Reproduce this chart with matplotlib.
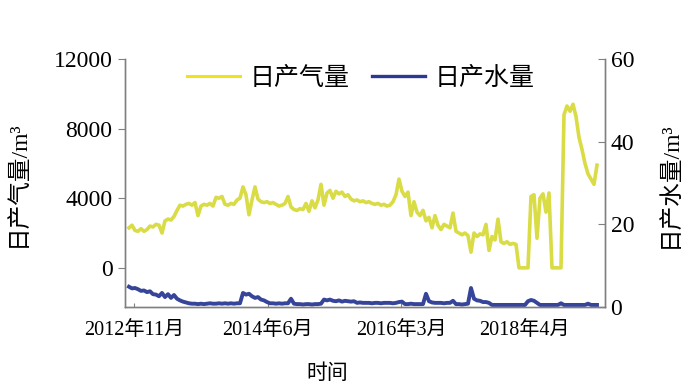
import matplotlib
matplotlib.use('Agg')
import matplotlib.pyplot as plt
from matplotlib.lines import Line2D
import numpy as np

plt.rcParams['font.family'] = ['Liberation Serif', 'Noto Sans CJK SC']

# daily gas rate (m3), sampled along the time axis
gas = [2300, 2450, 2150, 2100, 2250, 2100, 2200, 2400, 2350, 2500,
       2450, 2000, 2700, 2800, 2750, 2950, 3300, 3600, 3550, 3650,
       3700, 3600, 3750, 3000, 3550, 3650, 3600, 3700, 3550, 4050,
       4000, 4100, 3650, 3600, 3700, 3650, 3900, 4000, 4650, 4200,
       3050, 3900, 4650, 3950, 3800, 3750, 3800, 3700, 3750, 3650,
       3550, 3600, 3700, 4100, 3500, 3350, 3300, 3400, 3350, 3700,
       3250, 3850, 3450, 3900, 4800, 3600, 4300, 4450, 4000, 4400,
       4250, 4350, 4100, 4200, 3950, 3850, 3900, 3800, 3850, 3750,
       3800, 3700, 3650, 3700, 3600, 3650, 3550, 3600, 3800, 4200,
       5100, 4400, 4100, 4350, 3000, 3800, 3200, 3000, 3300, 2700,
       2900, 2300, 3000, 2450, 2200, 2500, 2400, 2300, 3150, 2100,
       2000, 1900, 2000, 1850, 900, 2000, 1800, 1950, 1900, 2500,
       1000, 1800, 1600, 2800, 1500, 1400, 1500, 1350, 1400, 1350,
       0, 0, 0, 0, 4100, 4200, 1700, 4000, 4250, 3200,
       4300, 0, 0, 0, 0, 8800, 9300, 9000, 9400, 8700,
       7500, 6800, 6000, 5400, 5100, 4800, 5900]

# daily water rate (m3)
water = [4.9, 4.5, 4.6, 4.3, 3.9, 4.0, 3.6, 3.8, 3.1, 3.0,
         2.6, 3.4, 2.4, 3.1, 2.2, 2.9, 2.0, 1.6, 1.3, 1.1,
         0.9, 0.8, 0.8, 0.7, 0.8, 0.7, 0.8, 0.9, 0.8, 0.8,
         0.9, 0.8, 0.9, 0.8, 0.9, 0.8, 0.9, 0.9, 3.4, 3.0,
         3.2, 2.6, 2.2, 2.4, 1.8, 1.6, 1.2, 0.9, 0.9, 0.8,
         0.9, 0.8, 0.9, 0.9, 2.0, 0.8, 0.7, 0.7, 0.6, 0.7,
         0.7, 0.6, 0.7, 0.7, 0.8, 1.8, 1.6, 1.8, 1.5, 1.4,
         1.6, 1.3, 1.5, 1.4, 1.3, 1.4, 1.0, 1.1, 1.0, 1.0,
         1.0, 0.9, 1.0, 1.0, 0.9, 1.0, 1.0, 1.0, 0.9, 1.0,
         1.2, 1.3, 0.7, 0.7, 0.8, 0.7, 0.7, 0.7, 0.7, 3.2,
         1.4, 1.1, 1.0, 1.0, 1.0, 0.9, 1.0, 1.0, 1.5, 0.7,
         0.7, 0.6, 0.7, 0.8, 4.6, 2.0, 1.6, 1.5, 1.2, 1.2,
         1.0, 0.5, 0.5, 0.5, 0.5, 0.5, 0.5, 0.5, 0.5, 0.5,
         0.5, 0.5, 0.5, 1.4, 1.7, 1.5, 1.0, 0.5, 0.5, 0.5,
         0.5, 0.5, 0.5, 0.5, 0.9, 0.5, 0.5, 0.5, 0.5, 0.5,
         0.5, 0.5, 0.5, 0.8, 0.5, 0.5, 0.5]

tick_pos = [1.7, 46.3, 90.7, 131.7]
tick_labels = ['2012年11月', '2014年6月', '2016年3月', '2018年4月']

gas_color = '#d9dc45'
water_color = '#36449a'
grey = '#808080'

x = np.arange(len(gas))

fig = plt.figure(figsize=(7, 3.85), dpi=100)
ax = fig.add_axes([125 / 700, 1 - 307 / 385, 480 / 700, 248 / 385])
ax2 = ax.twinx()

ax.plot(x, gas, color=gas_color, lw=2.6)
ax2.plot(x, water, color=water_color, lw=2.8)

ax.set_xlim(-1.33, 158.67)
ax.set_ylim(-2250, 12000)
ax2.set_ylim(0, 60)

ax.set_yticks([0, 4000, 8000, 12000])
ax2.set_yticks([0, 20, 40, 60])
ax.set_xticks(tick_pos)
ax.set_xticklabels(tick_labels)

for a in (ax, ax2):
    a.spines['top'].set_visible(False)
    for s in ('left', 'right', 'bottom'):
        a.spines[s].set_color(grey)
        a.spines[s].set_linewidth(1.0)

ax.tick_params(axis='y', direction='out', length=5, color=grey, labelsize=17, pad=4)
ax.tick_params(axis='x', direction='in', length=3, color=grey, labelsize=14.5, pad=10)
ax2.tick_params(axis='y', direction='in', length=5, color=grey, labelsize=17, pad=4)

fig.text(18 / 700, 1 - 184 / 385, '日产气量/m³', rotation=90, ha='center', va='center', fontsize=17)
fig.text(670 / 700, 1 - 185 / 385, '日产水量/m³', rotation=90, ha='center', va='center', fontsize=17)
fig.text(327 / 700, 1 - 374 / 385, '时间', ha='center', va='center', fontsize=15)

handles = [Line2D([], [], color='#f2e21c', lw=2.2),
           Line2D([], [], color='#2d3890', lw=2.4)]
ax2.legend(handles, ['日产气量', '日产水量'], loc='center', bbox_to_anchor=(0.492, 0.923),
           ncol=2, frameon=False, fontsize=18, handlelength=2.1, handletextpad=0.4,
           columnspacing=0.9)

fig.savefig('out.png', dpi=100)
